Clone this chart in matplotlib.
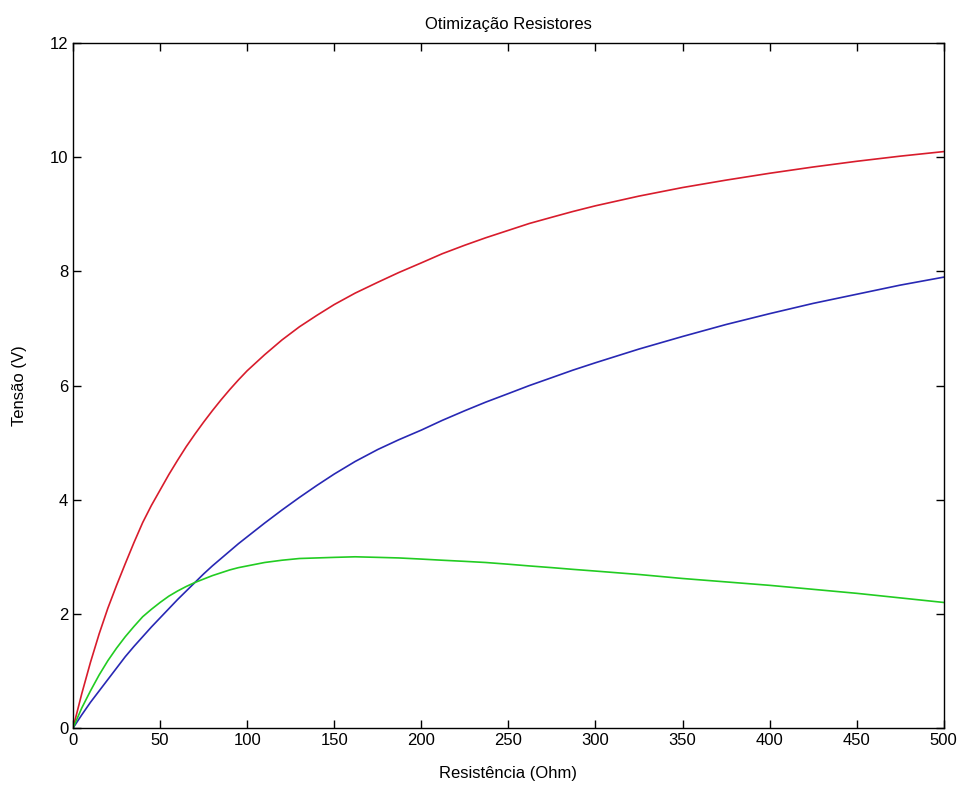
import matplotlib
matplotlib.use("Agg")
import matplotlib.pyplot as plt
from matplotlib import font_manager

R = [0, 5, 10, 15, 20, 25, 30, 35, 40, 45, 50, 55, 60, 65, 70, 75, 80, 85, 90, 95, 100,
     110, 120, 130, 140, 150, 162, 175, 187, 200, 212, 225, 237, 250, 262, 275, 287, 300,
     325, 350, 375, 400, 425, 450, 475, 500]
red = [0, 0.6, 1.15, 1.65, 2.1, 2.5, 2.88, 3.25, 3.6, 3.9, 4.17, 4.44, 4.69, 4.93, 5.15,
       5.36, 5.56, 5.75, 5.93, 6.1, 6.26, 6.54, 6.8, 7.03, 7.23, 7.42, 7.62, 7.81, 7.98,
       8.15, 8.31, 8.46, 8.59, 8.72, 8.84, 8.95, 9.05, 9.15, 9.32, 9.47, 9.6, 9.72, 9.83,
       9.93, 10.02, 10.1]
blue = [0, 0.23, 0.45, 0.65, 0.85, 1.05, 1.25, 1.43, 1.6, 1.77, 1.93, 2.09, 2.25, 2.4,
        2.55, 2.7, 2.84, 2.97, 3.1, 3.23, 3.35, 3.59, 3.82, 4.04, 4.25, 4.45, 4.67, 4.88,
        5.05, 5.22, 5.39, 5.56, 5.71, 5.86, 6.0, 6.14, 6.27, 6.4, 6.64, 6.86, 7.07, 7.26,
        7.44, 7.6, 7.76, 7.9]
green = [0, 0.35, 0.65, 0.93, 1.18, 1.4, 1.6, 1.78, 1.95, 2.08, 2.2, 2.31, 2.4, 2.48,
         2.55, 2.61, 2.67, 2.72, 2.77, 2.81, 2.84, 2.9, 2.94, 2.97, 2.98, 2.99, 3.0, 2.99,
         2.98, 2.96, 2.94, 2.92, 2.9, 2.87, 2.84, 2.81, 2.78, 2.75, 2.69, 2.62, 2.56, 2.5,
         2.43, 2.36, 2.28, 2.2]

xticks = list(range(0, 501, 50))
yticks = list(range(0, 13, 2))

avail = {f.name for f in font_manager.fontManager.ttflist}
fam = [f for f in ["Liberation Sans Narrow", "Liberation Sans", "DejaVu Sans"] if f in avail]
plt.rcParams['font.family'] = fam

fig = plt.figure(figsize=(9.61, 7.89), dpi=100)
ax = fig.add_axes([0.076, 0.0773, 0.906, 0.868])
ax.plot(R, red, color='#d81c2c', lw=1.2)
ax.plot(R, blue, color='#2828b4', lw=1.2)
ax.plot(R, green, color='#22cc22', lw=1.2)
ax.set_xlim(0, 500)
ax.set_ylim(0, 12)
ax.set_xticks(xticks)
ax.set_yticks(yticks)
ax.tick_params(direction='in', top=True, right=True, length=6, width=1, labelsize=12)
for s in ax.spines.values():
    s.set_linewidth(1)
ax.set_title("Otimização Resistores", fontsize=12, pad=10)
ax.set_xlabel("Resistência (Ohm)", fontsize=12, labelpad=13)
ax.set_ylabel("Tensão (V)", fontsize=12, labelpad=16)
fig.savefig("out.png", dpi=100)
